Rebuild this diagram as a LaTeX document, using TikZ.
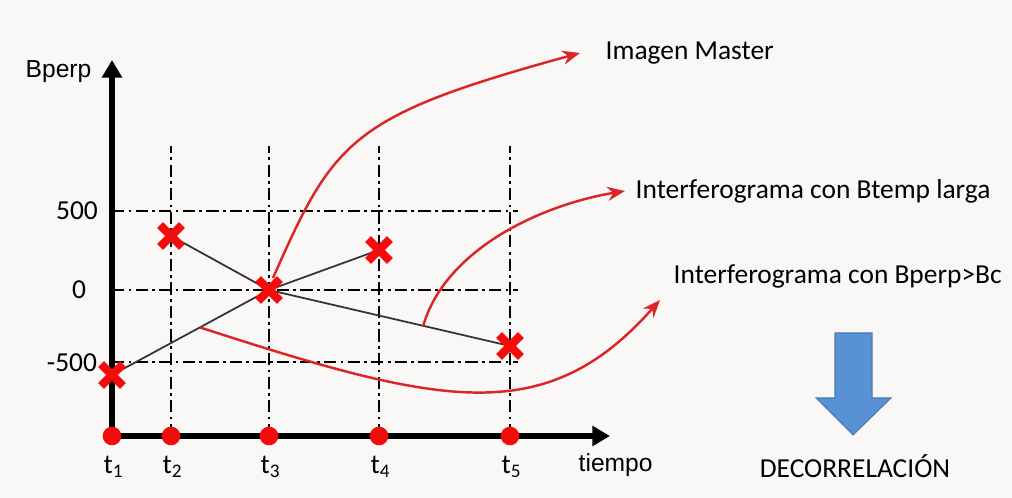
\documentclass[tikz,border=0pt]{standalone}
\usepackage{fontspec}
\setmainfont{Carlito}
\newfontfamily\arialfont{Liberation Sans}
\usetikzlibrary{arrows.meta,shapes.misc,calc,backgrounds}

\definecolor{fondo}{RGB}{249,248,246}
\definecolor{rojo}{RGB}{242,12,12}
\definecolor{rojoflecha}{RGB}{218,38,38}
\definecolor{azul}{RGB}{88,146,212}

\tikzset{
  eje/.style={line width=1.8pt, -{Triangle[length=5pt,width=5.5pt]}},
  rejilla/.style={line width=0.45pt, dash pattern=on 3.5pt off 1.2pt on 0.8pt off 1.2pt},
  enlace/.style={line width=0.5pt, black!80},
  flecha/.style={rojoflecha, line width=0.7pt, -{Stealth[length=5pt,width=4pt]}},
  cruz/.style={cross out, draw=rojo, line width=2.4pt, minimum size=3.8pt, inner sep=0pt},
  punto/.style={circle, fill=rojo, minimum size=5.3pt, inner sep=0pt},
  texto/.style={font=\fontsize{7.8}{9}\selectfont, inner sep=0pt},
  textoa/.style={font=\arialfont\fontsize{7}{8}\selectfont, inner sep=0pt},
}

\begin{document}
\begin{tikzpicture}[x=0.01cm, y=-0.01cm]
    \useasboundingbox (0,0) rectangle (1012,498);
    \begin{scope}[on background layer]
      \fill[fondo] (0,0) rectangle (1012,498);
    \end{scope}

    % instantes sobre el eje de tiempo
    \node[punto] (t1) at (112,436) {};
    \node[punto] (t2) at (171,436) {};
    \node[punto] (t3) at (269,436) {};
    \node[punto] (t4) at (379,436) {};
    \node[punto] (t5) at (510,436) {};
    \coordinate (xfin) at (610,436);
    \coordinate (yfin) at (112,60);

    % imagenes (Bperp frente a tiempo)
    \node[cruz] (p1) at (112,375) {};
    \node[cruz] (p2) at (171,236) {};
    \node[cruz] (p3) at (269,290) {};
    \node[cruz] (p4) at (379,250) {};
    \node[cruz] (p5) at (510,346) {};

    \begin{scope}[on background layer]
      \foreach \yy in {211,290,362}
        \draw[rejilla] (112,\yy) -- (518,\yy);
      \foreach \tt in {t2,t3,t4,t5}
        \draw[rejilla] (\tt.center) -- ($(\tt.center)+(0,-290)$);
      \draw[enlace] (p1.center) -- (p3.center);
      \draw[enlace] (p2.center) -- (p3.center);
      \draw[enlace] (p3.center) -- (p4.center);
      \draw[enlace] (p3.center) -- (p5.center);
      \draw[eje] (t1.center) -- (xfin);
      \draw[eje] (t1.center) -- (yfin);
    \end{scope}

    % etiquetas de los ejes
    \node[textoa, anchor=west] (ly) at (25,72) {Bperp};
    \node[textoa, anchor=west] (lx) at (578,465) {tiempo};
    \node[texto] (l500) at (77,211) {500};
    \node[texto] (l0) at (79,290) {0};
    \node[texto] (lm500) at (72,363) {-500};
    \node[texto] (lt1) at (114,467) {t\textsubscript{1}};
    \node[texto] (lt2) at (173,467) {t\textsubscript{2}};
    \node[texto] (lt3) at (271,467) {t\textsubscript{3}};
    \node[texto] (lt4) at (381,467) {t\textsubscript{4}};
    \node[texto] (lt5) at (512,467) {t\textsubscript{5}};

    % leyendas
    \node[texto, anchor=west] (tmaster) at (605,53) {Imagen Master};
    \node[texto, anchor=west] (tbtemp) at (635,191) {Interferograma con Btemp larga};
    \node[texto, anchor=west] (tbperp) at (673,276) {Interferograma con Bperp>Bc};
    \node[texto] (tdecor) at (855,466) {DECORRELACIÓN};

    \coordinate (a1) at ($(p3)+(4,-12)$);
    \coordinate (a2) at ($(p3)!0.64!(p5)$);
    \coordinate (a3) at ($(p1)!0.56!(p3)$);
    \draw[flecha] (a1) .. controls (334,140) and (350,116) .. ($(tmaster.west)+(-25,0)$);
    \draw[flecha] (a2) .. controls (445,250) and (540,205) .. ($(tbtemp.west)+(-10,0)$);
    \draw[flecha] (a3) .. controls (440,405) and (545,430) .. ($(tbperp.west)+(-13,24)$);

    % flecha de decorrelacion
    \filldraw[fill=azul, draw=azul!85!black, line width=0.3pt]
      (835,333) -- (872,333) -- (872,398) -- (891,398) -- (853,435)
      -- (816,398) -- (835,398) -- cycle;
\end{tikzpicture}
\end{document}
